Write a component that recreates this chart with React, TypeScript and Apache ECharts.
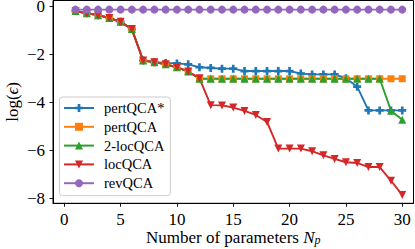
import React, { useEffect, useRef } from 'react';
import * as echarts from 'echarts';

const xValues = [1, 2, 3, 4, 5, 6, 7, 8, 9, 10, 11, 12, 13, 14, 15, 16, 17, 18, 19, 20, 21, 22, 23, 24, 25, 26, 27, 28, 29, 30];
const pertQCAStar = [-0.2, -0.29, -0.37, -0.49, -0.65, -0.95, -2.26, -2.33, -2.36, -2.38, -2.42, -2.54, -2.57, -2.6, -2.6, -2.7, -2.7, -2.7, -2.7, -2.7, -2.8, -2.84, -2.84, -2.84, -3.0, -3.35, -4.34, -4.34, -4.34, -4.34];
const pertQCA = [-0.2, -0.29, -0.37, -0.49, -0.65, -0.95, -2.26, -2.33, -2.42, -2.54, -2.72, -3.02, -3.02, -3.02, -3.02, -3.02, -3.02, -3.02, -3.02, -3.02, -3.02, -3.02, -3.02, -3.02, -3.02, -3.02, -3.02, -3.02, -3.02, -3.02];
const twoLocQCA = [-0.2, -0.29, -0.37, -0.49, -0.65, -0.95, -2.26, -2.33, -2.42, -2.54, -2.72, -3.02, -3.02, -3.02, -3.02, -3.02, -3.02, -3.02, -3.02, -3.02, -3.02, -3.02, -3.02, -3.02, -3.02, -3.02, -3.02, -3.02, -4.35, -4.73];
const locQCA = [-0.2, -0.29, -0.37, -0.49, -0.65, -0.95, -2.26, -2.33, -2.42, -2.54, -2.72, -3.0, -4.12, -4.13, -4.22, -4.36, -4.53, -4.82, -5.93, -5.93, -5.93, -6.04, -6.21, -6.36, -6.5, -6.53, -6.7, -6.7, -7.27, -7.86];
const revQCA = [-0.14, -0.14, -0.14, -0.14, -0.14, -0.14, -0.14, -0.14, -0.14, -0.14, -0.14, -0.14, -0.14, -0.14, -0.14, -0.14, -0.14, -0.14, -0.14, -0.14, -0.14, -0.14, -0.14, -0.14, -0.14, -0.14, -0.14, -0.14, -0.14, -0.14];

const seriesNames = ['pertQCA*', 'pertQCA', '2-locQCA', 'locQCA', 'revQCA'];
const xTicks = [0, 5, 10, 15, 20, 25, 30];
const yTicks = [-8, -6, -4, -2, 0];

const FONT = 'Liberation Serif';
const PLUS = 'path://M2,0H4V2H6V4H4V6H2V4H0V2H2Z';

const fmt = (v: number) => (v < 0 ? '\u2212' + Math.abs(v) : String(v));

export default function App() {
  const ref = useRef<HTMLDivElement>(null);
  useEffect(() => {
    if (!ref.current) return;
    const chart = echarts.init(ref.current, undefined, { renderer: 'svg' });
    const pair = (arr: number[]) => xValues.map((x, i) => [x, arr[i]]);
    const mk = (name: string, arr: number[], color: string, symbol: string, size: number, rotate = 0) => ({
      name,
      type: 'line',
      data: pair(arr),
      symbol,
      symbolSize: size,
      symbolRotate: rotate,
      showAllSymbol: true,
      lineStyle: { color, width: 1.9 },
      itemStyle: { color, opacity: 1 },
      emphasis: { disabled: true },
    });
    chart.setOption({
      animation: false,
      textStyle: { fontFamily: FONT },
      grid: {
        left: 53,
        top: 0.5,
        right: 1.5,
        bottom: 45.7,
        show: true,
        borderColor: '#000',
        borderWidth: 1,
        outerBoundsMode: 'none',
      },
      legend: {
        orient: 'vertical',
        left: 59.5,
        top: 97,
        itemWidth: 30,
        itemHeight: 10,
        itemGap: 3.8,
        padding: [3.5, 6, 5, 3.5],
        backgroundColor: 'rgba(255,255,255,0.8)',
        borderColor: '#cccccc',
        borderWidth: 1,
        borderRadius: 3,
        data: seriesNames,
        textStyle: { fontFamily: FONT, fontSize: 14.5, color: '#000', lineHeight: 15, padding: [0, 0, 0, 5] },
      },
      xAxis: {
        type: 'value',
        min: -1,
        max: 31,
        splitLine: { show: false },
        axisLine: { show: true, onZero: false, lineStyle: { color: '#000', width: 1 } },
        axisTick: { show: true, length: 3.5, lineStyle: { color: '#000', width: 0.9 }, customValues: xTicks },
        axisLabel: { customValues: xTicks, formatter: fmt, fontFamily: FONT, fontSize: 17, color: '#000', margin: 8 },
        name: 'Number of parameters {it|N}{sub|p}',
        nameLocation: 'middle',
        nameGap: 25,
        nameMoveOverlap: false,
        nameTextStyle: {
          fontFamily: FONT,
          fontSize: 17,
          color: '#000',
          rich: {
            it: { fontFamily: FONT, fontSize: 17, fontStyle: 'italic', color: '#000' },
            sub: { fontFamily: FONT, fontSize: 12, fontStyle: 'italic', color: '#000', padding: [6, 0, 0, 0] },
          },
        },
      },
      yAxis: {
        type: 'value',
        min: -8.21,
        max: 0.24,
        splitLine: { show: false },
        axisLine: { show: true, onZero: false, lineStyle: { color: '#000', width: 1 } },
        axisTick: { show: true, length: 3.5, lineStyle: { color: '#000', width: 0.9 }, customValues: yTicks },
        axisLabel: { customValues: yTicks, formatter: fmt, fontFamily: FONT, fontSize: 17, lineHeight: 12, color: '#000', margin: 8 },
        name: 'log({it|\u03f5})',
        nameLocation: 'middle',
        nameRotate: 90,
        nameGap: 32,
        nameMoveOverlap: false,
        nameTextStyle: {
          fontFamily: FONT,
          fontSize: 17,
          color: '#000',
          rich: {
            it: { fontFamily: FONT, fontSize: 17, fontStyle: 'italic', color: '#000' },
          },
        },
      },
      series: [
        mk(seriesNames[0], pertQCAStar, '#1f77b4', PLUS, 8),
        mk(seriesNames[1], pertQCA, '#ff7f0e', 'rect', 7),
        mk(seriesNames[2], twoLocQCA, '#2ca02c', 'triangle', 8),
        mk(seriesNames[3], locQCA, '#d62728', 'triangle', 8, 180),
        mk(seriesNames[4], revQCA, '#9467bd', 'circle', 8),
      ],
    });
    return () => chart.dispose();
  }, []);
  return <div ref={ref} style={{ position: 'absolute', left: 0, top: 0, width: 415, height: 249 }} />;
}
